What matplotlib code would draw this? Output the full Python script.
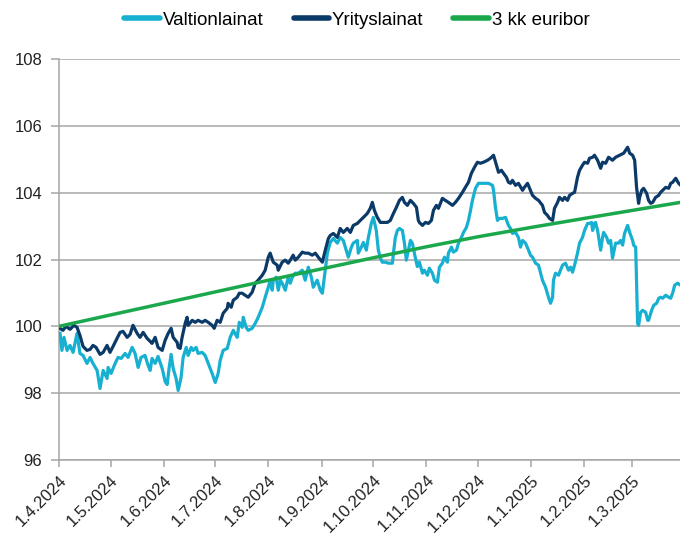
import matplotlib
matplotlib.use("Agg")
import matplotlib.pyplot as plt
import matplotlib.dates as mdates
import pandas as pd
import numpy as np

start = pd.Timestamp("2024-04-01")

# Yrityslainat (corporate bonds) – day offset from 1.4.2024, index value
yri_days = [0.6, 2.3, 4.1, 6.4, 8.7, 10.5, 12.2, 14.0, 16.3, 18.1, 19.8, 21.6, 23.9, 25.7, 28.0, 29.7,
            31.5, 33.8, 35.6, 37.3, 39.7, 41.4, 43.1, 45.5, 47.2, 49.0, 51.3, 53.1, 54.2, 56.0, 57.7,
            60.1, 61.8, 63.6, 65.3, 66.5, 68.8, 69.4, 70.6, 71.7, 73.5, 74.6, 75.2, 77.6, 79.3, 81.0,
            83.4, 85.1, 86.9, 89.2, 90.4, 92.1, 93.9, 95.6, 98.0, 98.5, 100.3, 101.5, 103.8, 105.0,
            106.7, 108.5, 110.2, 112.5, 114.3, 116.0, 118.4, 120.1, 121.9, 123.0, 124.8, 127.1, 127.7,
            130.0, 131.8, 133.5, 134.7, 136.4, 137.6, 139.4, 141.7, 143.4, 145.2, 147.5, 149.3, 151.0,
            153.4, 155.1, 156.9, 158.0, 159.8, 162.1, 163.8, 165.6, 167.9, 169.7, 171.4, 173.8, 175.5,
            177.3, 179.6, 181.3, 182.5, 183.7, 185.4, 187.2, 188.9, 191.3, 193.0, 194.8, 196.5, 198.3,
            200.0, 201.2, 202.9, 204.7, 206.4, 208.2, 209.3, 209.9, 211.7, 213.4, 215.2, 216.9, 218.1,
            219.8, 221.0, 223.3, 225.1, 226.8, 229.2, 230.9, 232.7, 235.0, 236.7, 238.5, 240.2, 242.0,
            243.7, 245.5, 247.2, 249.6, 251.3, 253.1, 254.8, 256.0, 257.7, 258.9, 260.6, 261.8, 263.0,
            264.1, 265.9, 267.6, 270.0, 271.1, 272.9, 274.1, 275.8, 277.6, 279.3, 281.6, 282.8, 284.5,
            285.7, 287.5, 288.6, 290.4, 291.5, 293.3, 294.5, 296.2, 297.4, 299.1, 300.3, 302.0, 303.2,
            304.9, 306.1, 307.9, 309.0, 310.8, 311.9, 313.7, 315.5, 316.6, 318.4, 320.1, 322.4, 324.2,
            326.5, 328.9, 331.2, 332.4, 334.1, 335.3, 336.4, 337.6, 338.2, 339.4, 340.5, 342.3, 343.4,
            344.6, 345.8, 347.5, 349.3, 350.4, 351.6, 353.4, 355.1, 356.3, 357.4, 359.2, 360.9, 362.1]
yri_vals = [99.94, 99.88, 100.00, 99.91, 100.03, 99.97, 99.73, 99.40, 99.28, 99.31, 99.43, 99.37, 99.16,
            99.22, 99.43, 99.22, 99.40, 99.64, 99.82, 99.85, 99.67, 99.76, 100.03, 99.79, 99.67, 99.82,
            99.64, 99.55, 99.49, 99.67, 99.37, 99.28, 99.58, 99.79, 99.94, 99.67, 99.52, 99.37, 99.34,
            99.67, 100.09, 100.27, 100.03, 100.18, 100.12, 100.18, 100.12, 100.18, 100.12, 100.03, 99.94,
            100.18, 100.12, 100.39, 100.54, 100.69, 100.57, 100.78, 100.87, 100.99, 100.99, 100.93,
            100.87, 101.02, 101.29, 101.38, 101.53, 101.68, 102.07, 102.19, 101.92, 101.83, 101.68,
            101.92, 101.98, 101.89, 101.98, 102.13, 101.98, 102.07, 102.22, 102.19, 102.19, 102.13,
            102.19, 102.07, 101.92, 102.28, 102.63, 102.72, 102.78, 102.66, 102.93, 102.81, 102.93,
            102.81, 103.02, 103.08, 103.17, 103.26, 103.38, 103.53, 103.71, 103.47, 103.26, 103.11,
            103.11, 103.11, 103.17, 103.38, 103.56, 103.77, 103.86, 103.71, 103.62, 103.77, 103.68,
            103.56, 103.17, 103.11, 103.02, 103.11, 103.08, 103.17, 103.47, 103.62, 103.53, 103.83,
            103.77, 103.71, 103.62, 103.71, 103.83, 104.01, 104.16, 104.31, 104.58, 104.76, 104.91,
            104.88, 104.91, 104.97, 105.03, 105.12, 104.82, 104.61, 104.67, 104.58, 104.46, 104.31,
            104.28, 104.37, 104.22, 104.28, 104.07, 104.16, 104.28, 104.13, 103.92, 103.83, 103.77,
            103.62, 103.41, 103.32, 103.23, 103.17, 103.53, 103.71, 103.86, 103.77, 103.86, 103.77,
            103.92, 103.98, 104.01, 104.46, 104.67, 104.82, 104.91, 104.88, 105.03, 105.06, 105.12,
            104.97, 104.73, 104.91, 104.88, 105.06, 104.97, 105.06, 105.12, 105.18, 105.36, 105.18,
            105.12, 104.97, 104.16, 103.68, 103.86, 104.07, 104.13, 103.98, 103.77, 103.68, 103.71,
            103.86, 103.92, 104.01, 104.07, 104.16, 104.13, 104.28, 104.31, 104.43, 104.28, 104.22]

# Valtionlainat (government bonds)
val_days = [0.6, 1.7, 2.9, 4.7, 6.4, 8.2, 10.5, 12.2, 14.0, 16.3, 18.1, 19.8, 22.2, 23.9, 25.7, 28.0,
            28.6, 30.3, 32.7, 34.4, 36.2, 38.5, 40.2, 42.6, 44.3, 46.1, 47.8, 50.1, 51.9, 53.1, 54.2,
            56.0, 57.7, 60.1, 61.8, 63.0, 64.1, 65.3, 66.5, 68.2, 69.4, 71.1, 72.3, 74.1, 75.2, 77.0,
            78.1, 79.9, 81.0, 83.4, 85.1, 86.9, 89.2, 91.0, 92.7, 93.9, 95.6, 98.0, 99.7, 101.5, 103.8,
            105.0, 106.7, 107.3, 109.0, 110.2, 112.5, 114.3, 116.0, 118.4, 120.1, 121.9, 123.0, 124.2,
            124.8, 126.5, 127.7, 128.9, 130.0, 131.8, 133.5, 134.7, 135.9, 137.6, 139.4, 141.7, 143.4,
            145.2, 147.0, 148.1, 150.4, 152.2, 153.4, 155.1, 156.3, 158.0, 159.8, 162.1, 163.8, 165.6,
            167.3, 168.5, 170.3, 171.4, 173.8, 174.3, 176.1, 177.3, 179.0, 180.2, 181.9, 183.1, 184.8,
            186.0, 187.2, 188.3, 190.1, 191.8, 194.2, 194.8, 195.9, 197.1, 198.3, 200.0, 201.2, 202.3,
            203.5, 204.7, 205.8, 207.6, 208.7, 209.9, 211.7, 212.8, 214.6, 215.7, 217.5, 218.7, 220.4,
            221.6, 223.3, 224.5, 226.2, 226.8, 228.6, 229.7, 231.5, 232.7, 234.4, 235.6, 237.3, 238.5,
            239.7, 240.8, 242.6, 244.3, 246.6, 248.4, 250.1, 252.5, 253.1, 254.2, 255.4, 256.6, 258.3,
            260.1, 261.8, 263.0, 264.1, 265.9, 267.6, 268.8, 270.0, 271.7, 273.5, 274.6, 275.8, 277.6,
            279.3, 280.5, 281.6, 283.4, 285.1, 286.3, 287.5, 288.0, 289.2, 291.0, 292.1, 293.3, 295.0,
            296.8, 298.0, 299.1, 300.3, 302.0, 303.2, 304.9, 306.1, 307.9, 309.0, 310.2, 310.8, 311.9,
            312.5, 313.7, 315.5, 316.6, 317.2, 319.0, 320.1, 321.3, 322.4, 323.0, 324.2, 325.9, 327.1,
            328.3, 329.4, 331.2, 332.4, 334.1, 334.7, 335.9, 336.4, 337.0, 337.6, 338.8, 339.9, 341.7,
            342.9, 343.4, 345.2, 346.4, 348.1, 349.3, 350.4, 351.6, 353.4, 355.1, 356.3, 357.4, 358.6,
            360.3, 362.1]
val_vals = [99.79, 99.28, 99.67, 99.28, 99.43, 99.22, 99.79, 99.19, 99.13, 98.89, 99.07, 98.89, 98.68,
            98.14, 98.68, 98.44, 98.77, 98.59, 98.89, 99.07, 99.04, 99.19, 99.07, 99.37, 99.19, 98.77,
            99.07, 99.13, 98.83, 98.68, 99.04, 98.89, 99.10, 98.74, 98.35, 98.26, 98.74, 99.16, 98.74,
            98.44, 98.08, 98.47, 99.07, 99.37, 99.13, 99.37, 99.28, 99.37, 99.19, 99.22, 99.13, 98.89,
            98.59, 98.32, 98.59, 98.98, 99.28, 99.34, 99.67, 99.88, 99.67, 100.12, 99.97, 100.27, 99.97,
            99.88, 99.94, 100.09, 100.27, 100.57, 100.87, 101.17, 101.38, 101.08, 101.38, 101.47, 101.08,
            101.38, 101.29, 101.08, 101.47, 101.29, 101.47, 101.59, 101.59, 101.68, 101.38, 101.77,
            101.47, 101.17, 101.38, 101.08, 100.99, 101.68, 102.19, 102.51, 102.63, 102.49, 102.66,
            102.57, 102.28, 102.07, 102.37, 102.49, 102.57, 102.19, 102.37, 102.51, 102.28, 102.66,
            103.08, 103.26, 102.87, 102.28, 102.04, 101.92, 101.92, 101.89, 101.89, 102.19, 102.66,
            102.87, 102.93, 102.87, 102.49, 101.98, 102.28, 102.57, 102.49, 102.04, 101.79, 101.92,
            101.59, 101.68, 101.53, 101.74, 101.59, 101.38, 101.32, 101.77, 101.89, 102.07, 101.92,
            102.19, 102.37, 102.22, 102.28, 102.49, 102.66, 102.81, 102.96, 103.17, 103.47, 103.77,
            104.13, 104.28, 104.28, 104.28, 104.28, 104.22, 104.07, 103.56, 103.17, 103.23, 103.23,
            103.26, 103.02, 102.93, 102.78, 102.81, 102.66, 102.37, 102.57, 102.49, 102.28, 102.13,
            102.07, 101.89, 101.83, 101.59, 101.38, 101.17, 100.87, 100.69, 100.87, 101.38, 101.59,
            101.53, 101.68, 101.83, 101.89, 101.68, 101.77, 101.62, 101.83, 102.19, 102.49, 102.66,
            102.87, 103.08, 103.08, 103.11, 102.87, 103.08, 103.11, 102.87, 102.28, 102.66, 102.81,
            102.66, 102.49, 102.57, 102.04, 102.19, 102.49, 102.49, 102.57, 102.43, 102.78, 103.02,
            102.81, 102.57, 102.43, 102.37, 101.38, 100.09, 100.03, 100.42, 100.48, 100.42, 100.18,
            100.18, 100.48, 100.63, 100.69, 100.84, 100.87, 100.84, 100.93, 100.87, 100.84, 100.99,
            101.23, 101.29, 101.23]

# 3 kk euribor (index, month starts)
eur_days = [0, 30, 61, 91, 122, 153, 183, 214, 244, 275, 306, 334, 362]
eur_vals = [100.00, 100.34, 100.69, 101.03, 101.38, 101.72, 102.05, 102.38, 102.68, 102.96, 103.23, 103.47, 103.71]

tick_labels = ["1.4.2024", "1.5.2024", "1.6.2024", "1.7.2024", "1.8.2024", "1.9.2024", "1.10.2024",
               "1.11.2024", "1.12.2024", "1.1.2025", "1.2.2025", "1.3.2025"]
tick_dates = pd.date_range("2024-04-01", periods=12, freq="MS")

def to_dates(days):
    return start + pd.to_timedelta(np.array(days), unit="D")

W, H = 680, 539
fig = plt.figure(figsize=(W / 100, H / 100), dpi=100)
ax = fig.add_axes([59 / W, (H - 460) / H, (W - 59) / W + 0.002, (460 - 59) / H])

c_val = "#17B0D1"
c_yri = "#0C3A68"
c_eur = "#1BA84C"
lw = 2.3

ax.plot(to_dates(val_days), val_vals, color=c_val, lw=lw, label="Valtionlainat", solid_joinstyle="round", zorder=3)
ax.plot(to_dates(yri_days), yri_vals, color=c_yri, lw=lw, label="Yrityslainat", solid_joinstyle="round", zorder=4)
ax.plot(to_dates(eur_days), eur_vals, color=c_eur, lw=lw + 0.2, label="3 kk euribor", zorder=5)

ax.set_ylim(96, 108)
ax.set_yticks(np.arange(96, 109, 2))
ax.set_xlim(start, start + pd.Timedelta(days=362.5))
ax.set_xticks(tick_dates)
ax.set_xticklabels(tick_labels, rotation=45, ha="right", rotation_mode="anchor",
                   fontsize=12, family="Liberation Sans", color="#222222")
for lab in ax.get_yticklabels():
    lab.set_family("Liberation Sans")
    lab.set_fontsize(12)
    lab.set_color("#222222")

grid_c = "#A6A6A6"
ax.grid(axis="y", color=grid_c, lw=1.1)
ax.set_axisbelow(True)
for s in ["top", "right", "bottom"]:
    ax.spines[s].set_visible(False)
ax.spines["left"].set_color(grid_c)
ax.spines["left"].set_linewidth(1.1)
ax.tick_params(axis="y", length=6, color=grid_c, width=1.1, pad=6)
ax.tick_params(axis="x", length=5, color=grid_c, width=1.1, pad=4, direction="out")
ax.axhline(96, color=grid_c, lw=1.1, zorder=1, clip_on=False)

leg = fig.legend(loc="center", bbox_to_anchor=(357 / W, 1 - 20 / H), ncol=3, frameon=False,
                 prop={"family": "Liberation Sans", "size": 13.5}, handlelength=1.9,
                 handletextpad=0.15, columnspacing=1.6)
for line in leg.get_lines():
    line.set_linewidth(4)
    line.set_solid_capstyle("round")

fig.savefig("out.png", dpi=100)
